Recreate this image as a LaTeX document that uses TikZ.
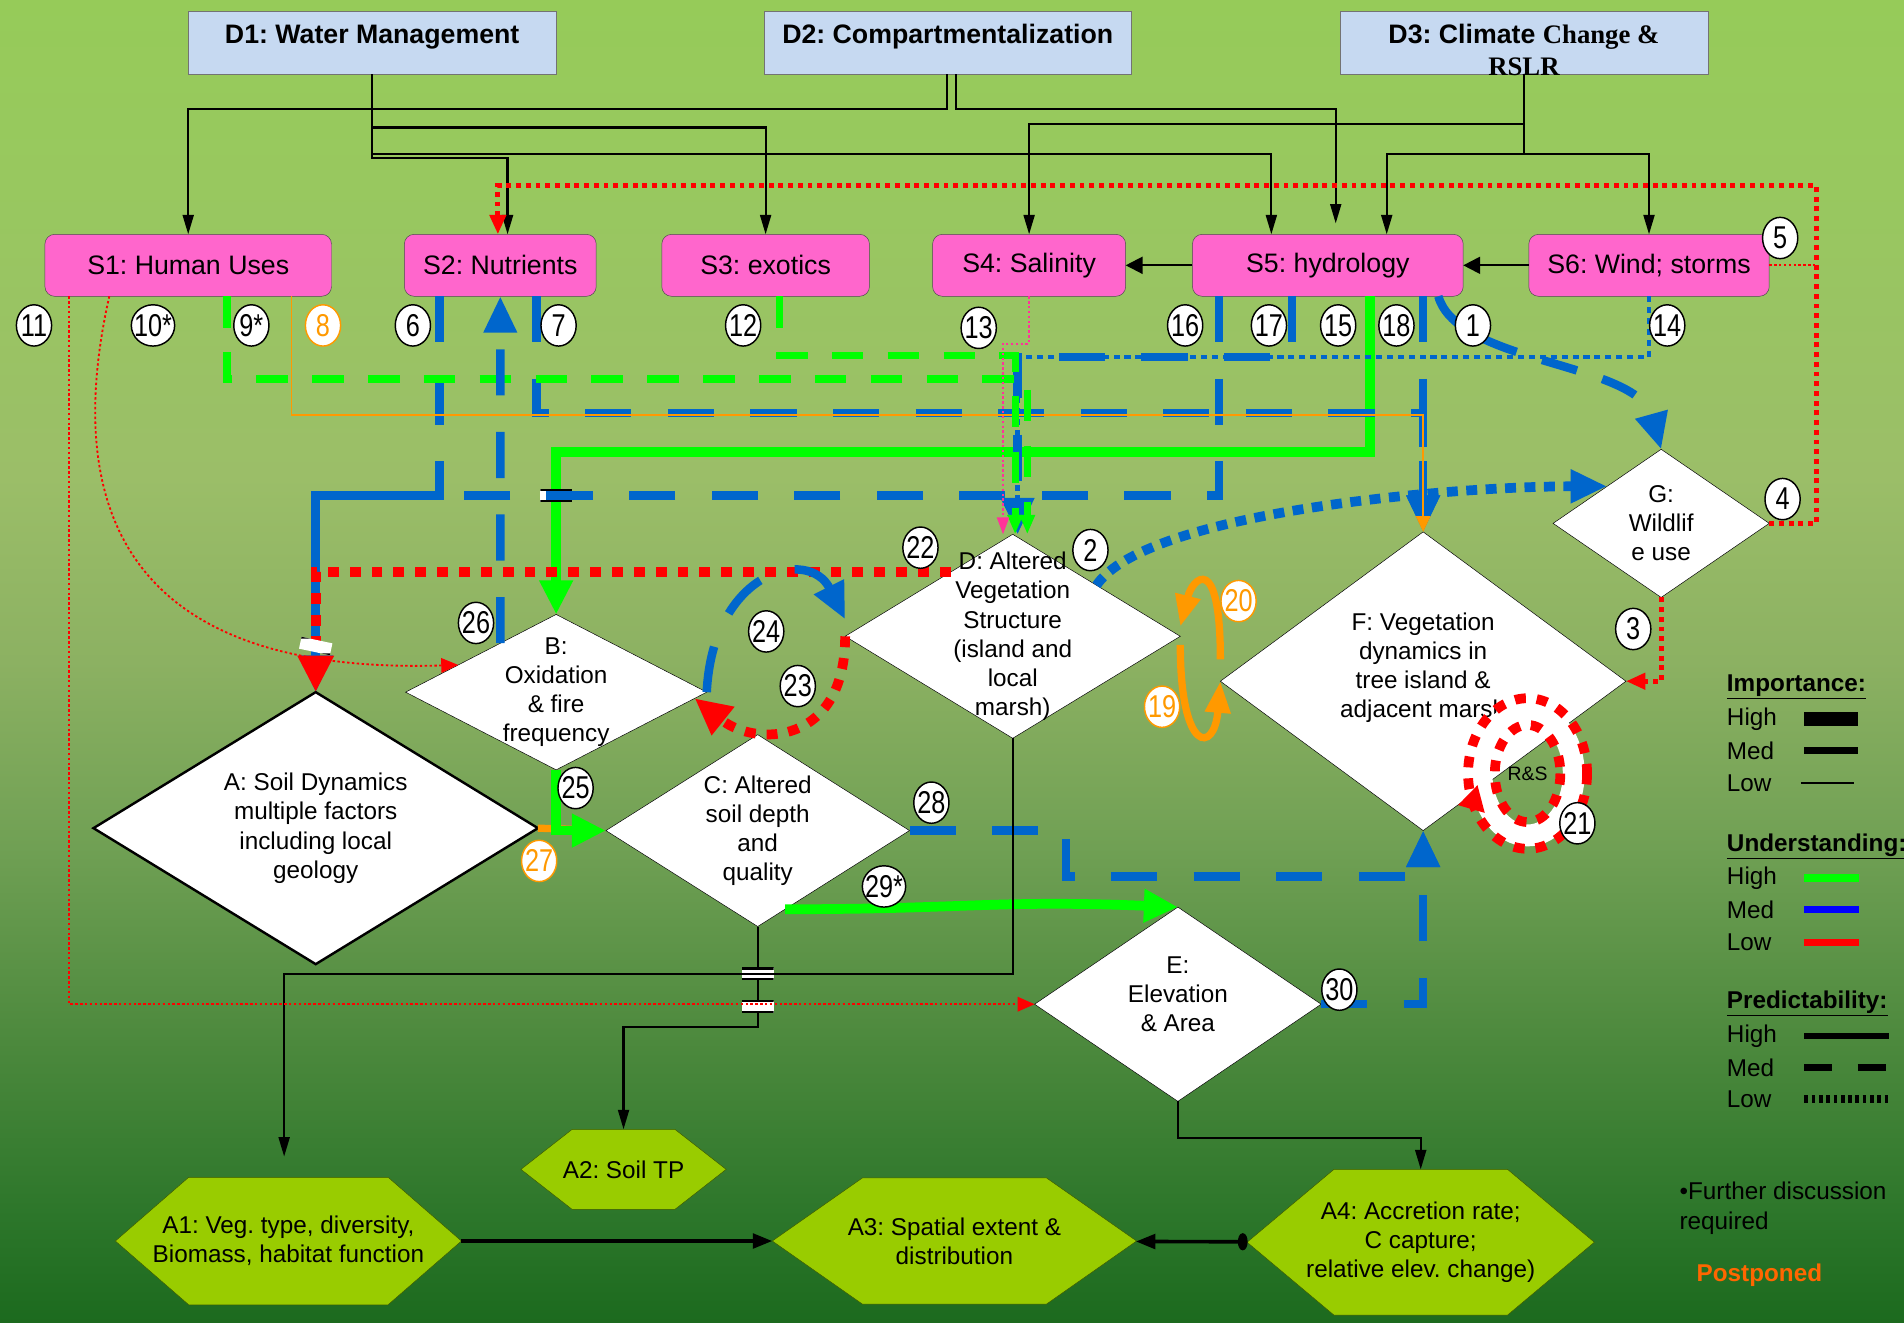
\documentclass[tikz,border=0pt]{standalone}
\usepackage{fontspec}
\setmainfont{Liberation Sans}
\newfontfamily\tnr{Liberation Serif}
\newfontfamily\numfont[FakeStretch=0.8]{Liberation Sans}
\usepackage{tikz}
\usetikzlibrary{arrows,arrows.meta,positioning,calc,shapes.geometric,shapes.symbols}

\definecolor{dbox}{RGB}{198,217,241}
\definecolor{sbox}{RGB}{255,102,204}
\definecolor{hexa}{RGB}{153,204,0}
\definecolor{hexb}{RGB}{60,90,0}
\definecolor{ugreen}{RGB}{0,255,0}
\definecolor{ublue}{RGB}{0,102,204}
\definecolor{lblue}{RGB}{0,0,255}
\definecolor{ured}{RGB}{255,0,0}
\definecolor{uorange}{RGB}{255,153,0}
\definecolor{upink}{RGB}{255,51,153}
\definecolor{postp}{RGB}{255,102,0}
\definecolor{bg0}{RGB}{150,203,89}
\definecolor{bg0b}{RGB}{152,200,95}
\definecolor{bg1}{RGB}{155,190,104}
\definecolor{bg2}{RGB}{140,177,98}
\definecolor{bg3}{RGB}{112,160,84}
\definecolor{bg4}{RGB}{78,138,62}
\definecolor{bg5}{RGB}{44,118,42}
\definecolor{bg6}{RGB}{28,106,30}
\pgfdeclareverticalshading{bgfade}{100bp}{color(0bp)=(bg6); color(25bp)=(bg6); color(29bp)=(bg5);
  color(36bp)=(bg4); color(43bp)=(bg3); color(50bp)=(bg2); color(57bp)=(bg1); color(68bp)=(bg0b);
  color(75bp)=(bg0); color(100bp)=(bg0)}

\begin{document}
\frenchspacing
\begin{tikzpicture}[x=1pt,y=-1pt,>={Triangle[length=16pt,width=9pt]},
  dnode/.style={rectangle,draw=black!55,fill=dbox,minimum width=303pt,minimum height=52pt,
    inner sep=0pt,outer sep=0pt,font=\fontsize{22}{26}\selectfont\bfseries,text height=16pt,text depth=14pt},
  dlab/.style={align=center,inner sep=0pt,font=\fontsize{22}{26}\selectfont\bfseries},
  snode/.style={rectangle,rounded corners=8pt,draw=black!70,fill=sbox,minimum height=51pt,
    inner sep=0pt,outer sep=0pt,font=\fontsize{22}{26}\selectfont},
  diam/.style={diamond,draw,fill=white,inner sep=0pt,outer sep=0pt},
  dtxt/.style={align=center,inner sep=0pt,font=\fontsize{20}{24}\selectfont},
  hexn/.style={signal,signal to=east and west,draw=hexb,fill=hexa,inner sep=0pt,outer sep=0pt},
  num/.style={ellipse,draw,line width=1.2pt,fill=white,inner sep=-3pt,minimum width=29pt,
    minimum height=34pt,font=\numfont\fontsize{26}{26}\selectfont},
  onum/.style={num,draw=uorange,text=uorange},
  xing/.style={rectangle,fill=white,minimum width=26pt,minimum height=10pt,inner sep=0pt,
    path picture={\draw[line width=3pt] (path picture bounding box.north west) -- (path picture bounding box.north east)
      (path picture bounding box.south west) -- (path picture bounding box.south east);}},
  blackline/.style={->,draw=black,line width=1.8pt},
  bluedash/.style={draw=ublue,line width=7pt,dash pattern=on 38pt off 30pt,-{Triangle[length=30pt,width=26pt]}},
  bluedot/.style={draw=ublue,line width=8pt,dash pattern=on 9pt off 7pt,-{Triangle[length=30pt,width=26pt]}},
  bluedotthin/.style={draw=ublue,line width=4pt,dash pattern=on 5pt off 4pt,-{Triangle[length=16pt,width=13pt]}},
  greendash/.style={draw=ugreen,line width=6pt,dash pattern=on 26pt off 20pt,-{Triangle[length=16pt,width=12pt]}},
  greenline/.style={draw=ugreen,line width=8pt,-{Triangle[length=28pt,width=26pt]}},
  reddotk/.style={draw=ured,line width=8pt,dash pattern=on 9pt off 9pt,-{Triangle[length=30pt,width=28pt]}},
  reddot/.style={draw=ured,line width=4pt,dash pattern=on 4pt off 4pt,-{Triangle[length=16pt,width=13pt]}},
  redthin/.style={draw=ured,line width=1.5pt,dash pattern=on 2pt off 2pt,-{Triangle[length=14pt,width=12pt]}},
  pinkthin/.style={draw=upink,line width=1.5pt,dash pattern=on 2pt off 2pt,-{Triangle[length=14pt,width=10pt]}},
  orangethin/.style={draw=uorange,line width=1.5pt,-{Triangle[length=13pt,width=12pt]}},
  orangeline/.style={draw=uorange,line width=6pt,-{Triangle[length=26pt,width=20pt]}},
  leghd/.style={anchor=west,inner sep=0pt,font=\fontsize{20}{24}\selectfont\bfseries},
  legtxt/.style={anchor=west,inner sep=0pt,font=\fontsize{20}{24}\selectfont}]

  \shade[shading=bgfade] (0,0) rectangle (1568,1089);
  \useasboundingbox (0,0) rectangle (1568,1089);

  % drivers
  \node[dnode] (D1) at (306.5,35) {D1: Water Management};
  \node[dnode] (D2) at (780.5,35) {D2: Compartmentalization};
  \node[dnode,label={[dlab,yshift=-6pt]center:{D3: Climate {\tnr Change \&}\\{\tnr RSLR}}}] (D3) at (1255,35) {};

  % stressors
  \node[snode,minimum width=236pt] (S1) at (155,218.5) {S1: Human Uses};
  \node[snode,minimum width=158pt] (S2) at (412,218.5) {S2: Nutrients};
  \node[snode,minimum width=171pt] (S3) at (630.5,218.5) {S3: exotics};
  \node[snode,minimum width=159pt] (S4) at (847.5,218.5) {S4: Salinity};
  \node[snode,minimum width=223pt] (S5) at (1093.5,218.5) {S5: hydrology};
  \node[snode,minimum width=198pt] (S6) at (1358,218.5) {S6: Wind; storms};

  % ecological effects
  \node[diam,line width=2pt,minimum width=366pt,minimum height=224pt,
    label={[dtxt]center:{A: Soil Dynamics\\multiple factors\\including local\\geology}}] (A) at (260,682) {};
  \node[diam,minimum width=248pt,minimum height=128pt,
    label={[dtxt]center:{B:\\Oxidation\\\& fire\\frequency}}] (B) at (458,570) {};
  \node[diam,minimum width=250pt,minimum height=158pt,
    label={[dtxt]center:{C: Altered\\soil depth\\and\\quality}}] (C) at (624,684) {};
  \node[diam,minimum width=276pt,minimum height=168pt,
    label={[dtxt]center:{D: Altered\\Vegetation\\Structure\\(island and\\local\\marsh)}}] (D) at (834,524) {};
  \node[diam,minimum width=236pt,minimum height=160pt,
    label={[dtxt,yshift=8pt]center:{E:\\Elevation\\\& Area}}] (E) at (970,827) {};
  \node[diam,minimum width=334pt,minimum height=246pt,
    label={[dtxt,yshift=11pt]center:{F: Vegetation\\dynamics in\\tree island \&\\adjacent marsh}}] (F) at (1172,561) {};
  \node[diam,minimum width=178pt,minimum height=122pt,
    label={[dtxt]center:{G:\\Wildlif\\e use}}] (G) at (1368,431) {};

  % attributes
  \node[hexn,minimum width=285pt,minimum height=105pt,signal pointer angle=82,
    label={[dtxt]center:{A1: Veg. type, diversity,\\Biomass, habitat function}}] (A1) at (237.5,1022) {};
  \node[hexn,minimum width=169pt,minimum height=66pt,signal pointer angle=76,
    label={[dtxt]center:{A2: Soil TP}}] (A2) at (513.5,963) {};
  \node[hexn,minimum width=300pt,minimum height=104pt,signal pointer angle=70,
    label={[dtxt]center:{A3: Spatial extent \&\\distribution}}] (A3) at (786,1022) {};
  \node[hexn,minimum width=286pt,minimum height=120pt,signal pointer angle=80,
    label={[dtxt]center:{A4: Accretion rate;\\C capture;\\relative elev. change)}}] (A4) at (1170,1023) {};

  % drivers to stressors
  \draw[blackline] ([xshift=-0.5pt]D2.south) -- ++(0,29) -| (S1.north);
  \draw[blackline] (D1.south) -- ++(0,44) -| (S3.north);
  \draw[blackline] (D1.south) -- ++(0,66) -| ([xshift=-46.5pt]S5.north);
  \draw[blackline] (D1.south) -- ++(0,69) -| ([xshift=6pt]S2.north);
  \draw[blackline] ([xshift=6.5pt]D2.south) -- ++(0,29) -| ([xshift=6.5pt,yshift=9pt]S5.north);
  \draw[blackline] (D3.south) -- ++(0,41) -| (S4.north);
  \draw[blackline] (D3.south) -- ++(0,66) -| ([xshift=48.5pt]S5.north);
  \draw[blackline] (D3.south) -- ++(0,66) -| (S6.north);
  \draw[blackline,-{Triangle[length=14pt,width=14pt]}] (S6) -- (S5);
  \draw[blackline,-{Triangle[length=14pt,width=14pt]}] (S5) -- (S4);

  % stressors to effects
  \draw[reddot] (G.east) -- ++(39,0) -- ++(0,-278) -| ([xshift=-2pt]S2.north);
  \draw[redthin,-] (S6.east) -- ++(39,0);
  \draw[reddot] (G.south) |- (F.east);
  \draw[greenline] ([xshift=34.5pt]S5.south) -- ++(0,128) -| (B.north);
  \node[xing] (x1) at (458,408) {};
  \draw[bluedash] ([xshift=-89.5pt]S5.south) -- ++(0,164) -| (A.north);
  \draw[bluedash] ([xshift=-50pt]S2.south) -- ++(0,164) -| (A.north);
  \draw[reddotk] ($(D.north)!0.37!(D.west)$) -| (A.north);
  \node[xing,rotate=-12] (x2) at (260,532) {};
  \draw[redthin] ([xshift=-65pt]S1.south) .. controls +(-35,156) and +(-291,9) .. ($(B.north)!0.65!(B.west)$);
  \draw[bluedash] ([xshift=30pt]S2.south) -- ++(0,96) -| (F.north);
  \draw[bluedash] (F.north |- S5.south) -- (F.north);
  \draw[orangethin] ([xshift=85pt]S1.south) -- ++(0,98) -| (F.north);
  \draw[bluedotthin] (S6.south) -- ++(0,50) -| ([xshift=4pt]D.north);
  \draw[bluedash] ([xshift=-29.5pt]S5.south) -- ++(0,50) -| ([xshift=4pt]D.north);
  \draw[greendash] ([xshift=11.5pt]S3.south) -- ++(0,49) -| ([xshift=2pt]D.north);
  \draw[greendash] ([xshift=32pt]S1.south) -- ++(0,68) -| ([xshift=12pt]D.north);
  \draw[pinkthin] (S4.south) -- ++(0,39) -| ([xshift=-8pt]D.north);
  \draw[bluedash,dash pattern=on 30pt off 22pt] ([xshift=91pt]S5.south) .. controls +(16,56) and +(-20,-72) .. (G.north);
  \draw[bluedot] (D.north east) .. controls +(40,-60) and +(-130,0) .. (G.north west);

  % effects to effects
  \draw[bluedash] ($(B.north)!0.37!(B.west)$) -- (S2.south);
  \draw[bluedash] (B.east) .. controls +(5,-100) and +(-30,-60) .. ([yshift=14pt]D.west);
  \draw[reddotk] (D.west) .. controls +(0,90) and +(50,40) .. ($(B.east)!0.08!(B.south)$);
  \draw[orangeline] (A.east) -- (C.west);
  \draw[greenline] (B.south) |- (C.west);
  \draw[bluedash] (C.east) -| ++(129,38) -| (F.south);
  \draw[bluedash] (E.east) -| (F.south);
  \draw[greenline] ($(C.east)!0.82!(C.south)$) .. controls +(150,0) and +(-150,-6) .. (E.north);
  \draw[orangeline] ([yshift=18pt]F.west) .. controls +(0,-90) and +(10,-40) .. ([yshift=8pt]D.east);
  \draw[orangeline] ([yshift=-7pt]D.east) .. controls +(0,90) and +(-5,60) .. (F.west);

  % R&S loop
  \coordinate (rs) at (1258,637);
  \draw[white,line width=18pt] (rs) ellipse (38 and 51);
  \draw[reddotk,-] (rs) ellipse (49 and 62);
  \draw[reddotk,-] (rs) ellipse (27 and 40);
  \draw[reddotk,-{Triangle[length=20pt,width=22pt]}] ($(rs)+(-42,22)$) -- ($(F.east)!0.83!(F.south)$);
  \node[font=\fontsize{16}{16}\selectfont,inner sep=0pt] (RS) at (rs) {R\&S};

  % effects to attributes
  \draw[blackline] (C.south) -- ++(0,83) -| (A2.north);
  \node[xing] (x3) at (624,802) {};
  \node[xing] (x4) at (624,829) {};
  \draw[blackline] (D.south) -- ++(0,194) -| ([xshift=-3.5pt,yshift=17pt]A1.north);
  \draw[redthin] ([xshift=-98pt]S1.south) |- (E.west);
  \draw[blackline] (E.south) -- ++(0,30) -| (A4.north);
  \draw[blackline,line width=3pt,-{Triangle[length=16pt,width=12pt]}] (A1) -- (A3);
  \draw[blackline,line width=3pt,{Ellipse[length=8pt,width=14pt]}-{Triangle[length=16pt,width=12pt]}] (A4) -- (A3);

  % link numbers
  \node[num] (n11) at (28,268) {11};
  \node[num] (n10) at (126,268) {10*};
  \node[num] (n9) at (207,268) {9*};
  \node[onum] (n8) at (266,268) {8};
  \node[num] (n6) at (340,268) {6};
  \node[num] (n7) at (460,268) {7};
  \node[num] (n12) at (612,268) {12};
  \node[num] (n13) at (806,270) {13};
  \node[num] (n16) at (976,268) {16};
  \node[num] (n17) at (1045,268) {17};
  \node[num] (n15) at (1102,268) {15};
  \node[num] (n18) at (1150,268) {18};
  \node[num] (n1) at (1213,268) {1};
  \node[num] (n14) at (1373,268) {14};
  \node[num] (n5) at (1466,196) {5};
  \node[num] (n4) at (1468,411) {4};
  \node[num] (n3) at (1345,518) {3};
  \node[num] (n2) at (898,453) {2};
  \node[num] (n22) at (758,451) {22};
  \node[num] (n24) at (631,520) {24};
  \node[num] (n23) at (657,565) {23};
  \node[num] (n26) at (392,513) {26};
  \node[num] (n25) at (474,649) {25};
  \node[onum] (n27) at (444,709) {27};
  \node[num] (n28) at (767,661) {28};
  \node[num] (n29) at (728,730) {29*};
  \node[num] (n30) at (1103,815) {30};
  \node[onum] (n20) at (1020,495) {20};
  \node[onum] (n19) at (957,582) {19};
  \node[num] (n21) at (1299,678) {21};

  % legend
  \node[leghd] (imp) at (1422,566) {\underline{Importance:}};
  \node[legtxt] (impH) at (1422,592) {High};
  \node[legtxt] (impM) at (1422,618) {Med};
  \node[legtxt] (impL) at (1422,645) {Low};
  \draw[line width=12pt] ([xshift=64pt]impH.west) -- ++(44,0);
  \draw[line width=6pt] ([xshift=64pt]impM.west) -- ++(44,0);
  \draw[line width=1.5pt] ([xshift=61pt]impL.west) -- ++(44,0);
  \node[leghd] (und) at (1422,697) {\underline{Understanding:}};
  \node[legtxt] (undH) at (1422,723) {High};
  \node[legtxt] (undM) at (1422,749) {Med};
  \node[legtxt] (undL) at (1422,776) {Low};
  \draw[ugreen,line width=6pt] ([xshift=64pt]undH.west) -- ++(45,0);
  \draw[lblue,line width=6pt] ([xshift=64pt]undM.west) -- ++(45,0);
  \draw[ured,line width=6pt] ([xshift=64pt]undL.west) -- ++(45,0);
  \node[leghd] (pre) at (1422,826) {\underline{Predictability:}};
  \node[legtxt] (preH) at (1422,853) {High};
  \node[legtxt] (preM) at (1422,879) {Med};
  \node[legtxt] (preL) at (1422,905) {Low};
  \draw[line width=5pt] ([xshift=64pt]preH.west) -- ++(70,0);
  \draw[line width=6pt,dash pattern=on 23pt off 21pt] ([xshift=64pt]preM.west) -- ++(70,0);
  \draw[line width=7pt,dash pattern=on 3pt off 3pt] ([xshift=64pt]preL.west) -- ++(70,0);
  \node[legtxt,align=left] (fur) at (1383,995) {•Further discussion\\required};
  \node[legtxt,font=\fontsize{20}{24}\selectfont\bfseries,text=postp] (pos) at (1397,1050) {Postponed};
\end{tikzpicture}
\end{document}
